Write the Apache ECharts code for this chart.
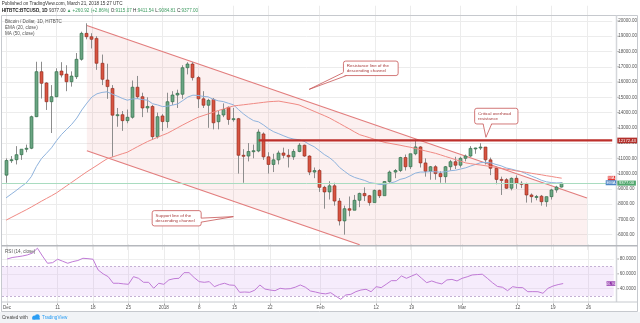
<!DOCTYPE html>
<html>
<head>
<meta charset="utf-8">
<script src="https://cdn.jsdelivr.net/npm/echarts@6.0.0/dist/echarts.min.js"></script>
<style>
html,body{margin:0;padding:0;background:#fff;}
#chart{width:640px;height:323px;}
</style>
</head>
<body>
<div id="chart"></div>
<script>
// ---------------- DATA ----------------
const firstCategory = '2017-11-30';
const categoryCount = 122;
const firstCandle = '2017-12-01';

const opens = [
 9900, 10860, 10910, 11240, 11600, 11660, 13730, 16680, 15940, 14710,
 15040, 16720, 16520, 16020, 16350, 17490, 19190, 18970, 18860, 17230,
 16130, 15580, 13830, 13860, 13470, 13690, 15660, 15040, 14300, 14400,
 12420, 13780, 13410, 14710, 15150, 15200, 16940, 17180, 16290, 14900,
 14480, 14860, 13400, 13840, 14340, 13550, 13600, 11200, 11150, 11450,
 11480, 12600, 11100, 10600, 10900, 11350, 11200, 11100, 11450, 11860,
 11150, 10100, 10200, 9100, 8800, 9200, 8200, 6900, 7700, 7600,
 8250, 8700, 8550, 8100, 8900, 8550, 9480, 10100, 10200, 11050,
 10450, 11300, 11750, 10700, 10150, 10450, 10000, 9800, 10450, 10780,
 10550, 11000, 11150, 11650, 11680, 11740, 10900, 10350, 9620, 9600,
 9040, 9690, 9360, 9300, 8600, 8490, 8520, 8160, 8490, 8930, 9115.07
];
const highs = [
 11000, 11150, 11800, 11600, 11900, 13800, 17330, 17330, 15990, 15800,
 16900, 17300, 17100, 16700, 17900, 19300, 19850, 19200, 19000, 17800,
 17200, 15800, 14300, 14100, 14200, 16100, 16400, 15300, 15000, 14500,
 14000, 13900, 15300, 15400, 15500, 17100, 17300, 17300, 16400, 15400,
 14900, 14950, 14100, 14600, 14400, 14300, 13650, 11600, 12000, 11900,
 12900, 12700, 11400, 11300, 11500, 11700, 11600, 11600, 12000, 11900,
 11200, 10400, 10300, 9200, 9500, 9400, 8400, 7900, 8500, 8600,
 8750, 9100, 8600, 8950, 8950, 9500, 10200, 10300, 11100, 11250,
 11300, 12250, 11800, 11000, 10500, 10550, 10150, 10500, 10900, 11100,
 11100, 11250, 11800, 11700, 11990, 11750, 11050, 10450, 9800, 9700,
 9750, 9880, 9500, 9400, 8700, 8600, 8600, 8500, 9000, 9200, 9411.54
];
const lows = [
 9400, 10700, 10600, 10900, 11400, 11600, 13700, 14920, 14170, 12660,
 15000, 16300, 15400, 15700, 16200, 17400, 18800, 18200, 16800, 15800,
 14900, 11100, 13070, 12800, 13300, 13600, 14900, 13700, 14000, 12200,
 12300, 12800, 13000, 14500, 14300, 14900, 16500, 16100, 14300, 14300,
 13000, 12900, 12900, 13700, 13200, 13400, 10000, 9400, 10800, 11000,
 11400, 10900, 10000, 10100, 10600, 11000, 10400, 10900, 11400, 11100,
 9900, 9700, 8800, 7700, 8300, 7900, 6600, 6000, 7200, 7600,
 7800, 8200, 7900, 8100, 8400, 8550, 9400, 9700, 10100, 10200,
 10300, 11200, 10400, 9800, 9600, 9600, 9400, 9400, 10200, 10300,
 10400, 10800, 11100, 11300, 11550, 10600, 9900, 9300, 8600, 9000,
 8900, 9000, 9050, 8100, 8100, 8250, 7900, 7830, 8300, 8750, 9084.81
];
const closes = [
 10860, 10910, 11240, 11600, 11660, 13730, 16680, 15920, 14710, 15040,
 16680, 16460, 16020, 16390, 17490, 19190, 18970, 18800, 17230, 16180,
 15700, 13830, 13860, 13470, 13690, 15660, 15040, 14300, 14400, 12420,
 13730, 13410, 14710, 15150, 15260, 16940, 17180, 16290, 14900, 14480,
 14800, 13330, 13840, 14200, 13550, 13600, 11200, 11150, 11450, 11500,
 12720, 11100, 10600, 10900, 11350, 11200, 11100, 11450, 11860, 11150,
 10100, 10200, 9100, 8800, 9200, 8200, 6900, 7700, 7600, 8250,
 8700, 8550, 8100, 8900, 8550, 9480, 10100, 10200, 11050, 10450,
 11300, 11750, 10700, 10150, 10450, 10000, 9800, 10450, 10780, 10550,
 11000, 11150, 11650, 11680, 11740, 10900, 10350, 9620, 9600, 9040,
 9690, 9360, 9300, 8600, 8490, 8500, 8160, 8490, 8930, 9115.07, 9377.00
];
const ema20 = [
 8410, 8650, 8890, 9150, 9390, 9800, 10460, 10980, 11330, 11690,
 12160, 12570, 12900, 13230, 13640, 14170, 14620, 15020, 15230, 15320,
 15360, 15210, 15080, 14930, 14810, 14890, 14910, 14850, 14810, 14580,
 14500, 14390, 14420, 14490, 14570, 14790, 15020, 15140, 15120, 15060,
 15030, 14870, 14770, 14720, 14610, 14510, 14200, 13910, 13670, 13470,
 13390, 13180, 12930, 12740, 12610, 12470, 12340, 12260, 12220, 12120,
 11920, 11760, 11510, 11250, 11050, 10780, 10410, 10150, 9910, 9750,
 9650, 9550, 9410, 9360, 9280, 9300, 9380, 9460, 9620, 9700,
 9850, 10030, 10100, 10100, 10130, 10120, 10090, 10120, 10190, 10220,
 10300, 10380, 10500, 10610, 10720, 10740, 10700, 10600, 10510, 10370,
 10300, 10210, 10130, 9980, 9840, 9710, 9560, 9460, 9410, 9390, 9400
];
const ma50 = [
 6950, 7120, 7290, 7460, 7630, 7810, 8000, 8190, 8370, 8550,
 8740, 8970, 9200, 9430, 9660, 9890, 10120, 10330, 10540, 10760,
 10970, 11080, 11190, 11300, 11400, 11580, 11760, 11930, 12100, 12240,
 12380, 12520, 12650, 12830, 13010, 13190, 13360, 13530, 13690, 13800,
 13910, 14020, 14130, 14230, 14330, 14430, 14470, 14510, 14550, 14590,
 14630, 14670, 14710, 14730, 14750, 14690, 14630, 14570, 14500, 14360,
 14220, 14080, 13940, 13800, 13650, 13470, 13290, 13100, 12920, 12730,
 12550, 12450, 12350, 12240, 12140, 12040, 11980, 11920, 11860, 11790,
 11730, 11650, 11570, 11490, 11410, 11330, 11230, 11120, 11020, 10910,
 10810, 10700, 10650, 10600, 10560, 10510, 10460, 10400, 10350, 10290,
 10240, 10180, 10130, 10080, 10020, 9970, 9920, 9860, 9810, 9750, 9700
];
const rsi14 = [
 80, 82, 83, 84, 85.5, 88, 94.6, 84, 74.3, 75.1,
 79.7, 77, 74.3, 76.5, 78, 81, 80.5, 79.7, 65.3, 60,
 56.2, 47.3, 47.3, 46.5, 45.9, 56.2, 54, 48.6, 48.6, 40.5,
 47.3, 45.9, 51.8, 53.5, 54, 61.6, 61.6, 55, 49.5, 48.6,
 49.5, 42.7, 45.5, 47.3, 45, 44.5, 35.1, 35.5, 35.1, 38,
 45, 39.5, 38.2, 37.3, 40.5, 39.6, 40, 42, 45, 42,
 36.9, 35.5, 33.8, 33, 34.6, 30, 25.7, 31.5, 32.4, 36,
 38.2, 39.2, 35.9, 42.7, 41.4, 46, 50.8, 50.8, 57.2, 54,
 57, 59.9, 54, 48.1, 50.4, 48, 46.4, 51.8, 52.5, 50.4,
 54, 56, 58.5, 59, 59.5, 54, 48.1, 43, 41.9, 37.3,
 42.7, 41.5, 41.4, 35.9, 36, 35.9, 33.8, 40.5, 43.6, 45.5, 46.9
];

// time-axis tick labels
const tickDates = ['2017-12-01','2017-12-11','2017-12-18','2017-12-25','2018-01-01','2018-01-08','2018-01-15','2018-01-22','2018-02-01','2018-02-12','2018-02-19','2018-03-01','2018-03-12','2018-03-19','2018-03-26'];
const tickLabels = ['Dec','11','18','25','2018','8','15','22','Feb','12','19','Mar','12','19','26'];

// drawings (date, price)
const upperLineDates = ['2017-12-17','2018-03-26'];
const upperLinePrices = [19705, 8401];
const lowerLineDates = ['2017-12-17','2018-02-09'];
const lowerLinePrices = [11500, 5340];
const channelDates = ['2017-12-17','2018-03-26','2018-03-26','2018-02-09','2017-12-17'];
const channelPrices = [19705, 8401, 5300, 5300, 11500];
const resistanceDates = ['2018-01-20','2018-03-31'];
const resistancePrices = [12172.43, 12172.43];
const lastPrice = 9377.00;

// callouts: tip anchor (date, price)
const calloutTexts = [['Resistance line of the','descending channel'],['Critical overhead','resistance'],['Support line of the','descending channel']];
const calloutTipDates = ['2018-01-30','2018-03-06','2018-01-15'];
const calloutTipPrices = [15520, 12380, 7180];

// ---------------- BUILD ----------------
const DAY = 86400000;
const t0 = Date.parse(firstCategory + 'T00:00:00Z');
function catIndex(s){ return Math.round((Date.parse(s + 'T00:00:00Z') - t0) / DAY); }
const categories = [];
for (let i = 0; i < categoryCount; i++) categories.push(new Date(t0 + i * DAY).toISOString().slice(0,10));
const tickMap = {};
tickDates.forEach((d, k) => { tickMap[catIndex(d)] = tickLabels[k]; });
const isTick = (i) => tickMap[i] !== undefined;

const c0 = catIndex(firstCandle);
const candleData = opens.map((o, k) => [c0 + k, o, highs[k], lows[k], closes[k]]);
const emaData = ema20.map((v, k) => [c0 + k, v]);
const maData = ma50.map((v, k) => [c0 + k, v]);
const rsiData = rsi14.map((v, k) => [c0 + k, v]);
const pairs = (ds, vs) => ds.map((d, k) => [catIndex(d), vs[k]]);

const FONT = '"Liberation Sans", Arial, sans-serif';
const chart = echarts.init(document.getElementById('chart'), null, {renderer:'canvas', width:640, height:323});

function renderCandle(params, api){
  const idx = api.value(0);
  const o = api.value(1), h = api.value(2), l = api.value(3), c = api.value(4);
  const pO = api.coord([idx, o]), pC = api.coord([idx, c]);
  const pH = api.coord([idx, h]), pL = api.coord([idx, l]);
  const xc = Math.round(pO[0] - 0.5) + 0.5;
  const up = c >= o;
  const top = Math.min(pO[1], pC[1]);
  const bh = Math.max(Math.abs(pO[1] - pC[1]), 1);
  return {type:'group', children:[
    {type:'line', shape:{x1:xc, y1:pH[1], x2:xc, y2:pL[1]}, style:{stroke:'#8d8d8d', lineWidth:1}},
    {type:'rect', shape:{x:xc - 1.5, y:top, width:3, height:bh},
     style:{fill: up ? '#6ba583' : '#d75442', stroke: up ? '#2c6a43' : '#8e2a1d', lineWidth:0.6}}
  ]};
}
function renderChannel(params, api){
  if (params.dataIndex !== 0) return null;
  const pts = channelDates.map((d, k) => api.coord([catIndex(d), channelPrices[k]]));
  return {type:'polygon', shape:{points:pts}, style:{fill:'rgba(228,105,105,0.10)'}};
}

const option = {
  animation:false,
  backgroundColor:'#ffffff',
  grid:[
    {left:1.0, width:612.74, top:5.74, height:244.16},
    {left:1.0, width:612.74, top:244.2, height:59.3}
  ],
  xAxis:[
    {type:'category', gridIndex:0, data:categories, boundaryGap:false,
     axisLine:{show:false}, axisTick:{show:false}, axisLabel:{show:false},
     splitLine:{show:true, interval:(i)=>isTick(i), lineStyle:{color:'#ececec', width:1}}},
    {type:'category', gridIndex:1, data:categories, boundaryGap:false,
     axisLine:{show:false},
     axisTick:{show:true, interval:(i)=>isTick(i), length:1.5, lineStyle:{color:'#9a9a9a'}},
     axisLabel:{show:true, interval:(i)=>isTick(i), formatter:(v, i)=>tickMap[i] || '', fontSize:4.6, color:'#555', margin:1.5, fontFamily:FONT},
     splitLine:{show:true, interval:(i)=>isTick(i), lineStyle:{color:'#ececec', width:1}}}
  ],
  yAxis:[
    {type:'value', gridIndex:0, position:'right', min:5000, max:21000, interval:1000,
     axisLine:{show:false}, axisTick:{show:false},
     axisLabel:{margin:6, fontSize:4.5, color:'#555', fontFamily:FONT,
       formatter:(v)=> (v >= 6000 && v <= 20000) ? v.toFixed(2) : ''},
     splitLine:{show:true, showMinLine:false, showMaxLine:false, lineStyle:{color:'#ececec', width:1}}},
    {type:'value', gridIndex:1, position:'right', min:20, max:100, interval:20,
     axisLine:{show:false}, axisTick:{show:false},
     axisLabel:{margin:6, fontSize:4.5, color:'#555', fontFamily:FONT,
       formatter:(v)=> (v >= 40 && v <= 80) ? v.toFixed(4) : ''},
     splitLine:{show:true, showMinLine:false, showMaxLine:false, lineStyle:{color:'#efefef', width:1}}}
  ],
  series:[
    {type:'custom', name:'channel', xAxisIndex:0, yAxisIndex:0, renderItem:renderChannel,
     data:pairs(channelDates, channelPrices), encode:{x:0, y:1}, clip:true, z:1, silent:true},
    {type:'line', name:'upper', xAxisIndex:0, yAxisIndex:0, data:pairs(upperLineDates, upperLinePrices),
     symbol:'none', lineStyle:{color:'#e27d7d', width:1.2}, z:2, silent:true},
    {type:'line', name:'lower', xAxisIndex:0, yAxisIndex:0, data:pairs(lowerLineDates, lowerLinePrices),
     symbol:'none', lineStyle:{color:'#e27d7d', width:1.2}, z:2, silent:true},
    {type:'custom', name:'BTCUSD', xAxisIndex:0, yAxisIndex:0, renderItem:renderCandle,
     data:candleData, encode:{x:0, y:[1,2,3,4]}, clip:true, z:3},
    {type:'line', name:'EMA', xAxisIndex:0, yAxisIndex:0, data:emaData, symbol:'none',
     lineStyle:{color:'#8fb3dd', width:1}, z:4},
    {type:'line', name:'MA', xAxisIndex:0, yAxisIndex:0, data:maData, symbol:'none',
     lineStyle:{color:'#f08a84', width:1}, z:4},
    {type:'line', name:'resistance', xAxisIndex:0, yAxisIndex:0, data:pairs(resistanceDates, resistancePrices),
     symbol:'none', lineStyle:{color:'#bd2f2b', width:2.2}, z:5, silent:true,
     markLine:{silent:true, symbol:'none', label:{show:false},
       lineStyle:{color:'#a9dcc0', width:1, type:'solid'}, data:[{yAxis:lastPrice}]}},
    {type:'line', name:'RSI', xAxisIndex:1, yAxisIndex:1, data:rsiData, symbol:'none',
     lineStyle:{color:'#c07ad6', width:1}, z:4,
     markArea:{silent:true, itemStyle:{color:'rgba(205,150,240,0.18)'}, data:[[{yAxis:30},{yAxis:70}]]},
     markLine:{silent:true, symbol:'none', label:{show:false},
       lineStyle:{color:'#c4b0d4', width:1, type:[2,2]}, data:[{yAxis:70},{yAxis:30}]}}
  ]
};
chart.setOption(option);

// ---------------- OVERLAYS ----------------
const P = (d, v) => chart.convertToPixel({gridIndex:0}, [typeof d === 'string' ? catIndex(d) : d, v]);
const R = (v) => chart.convertToPixel({gridIndex:1}, [0, v])[1];
const g = [];
const T = (text, x, y, opt) => g.push({type:'text', z:60, style:Object.assign({text, x, y, fill:'#555', fontSize:4.6, fontFamily:FONT, verticalAlign:'middle', align:'left'}, opt || {})});
const L = (x1, y1, x2, y2, stroke, w, z) => g.push({type:'line', z:z || 55, shape:{x1, y1, x2, y2}, style:{stroke, lineWidth:w}});

// footer + frame
g.push({type:'rect', z:50, shape:{x:0, y:312, width:640, height:11}, style:{fill:'#f1f3f6'}});
g.push({type:'rect', z:55, shape:{x:1.5, y:15.5, width:636, height:296}, style:{fill:'none', stroke:'#c6c9ce', lineWidth:1}});
L(616.5, 15.5, 616.5, 302, '#d4d6da', 1.5);
L(1.5, 245.8, 637.5, 245.8, '#b5b8bd', 1.6);
L(1.5, 302, 637.5, 302, '#c6c9ce', 1);

// price-axis ticks
for (let v = 6000; v <= 20000; v += 1000){ const y = P(0, v)[1]; L(617.3, y, 619, y, '#9a9a9a', 0.8, 56); }
[40, 60, 80].forEach(v => { const y = R(v); L(617.3, y, 619, y, '#9a9a9a', 0.8, 56); });

// header
T('Published on TradingView.com, March 21, 2018 15:27 UTC', 1.7, 4.2, {fill:'#333', fontSize:4.6});
g.push({type:'text', z:60, style:{x:1.7, y:10.8, verticalAlign:'middle', fontFamily:FONT, fontSize:4.6,
  text:'{s|HITBTC:BTCUSD, 1D} {n|9377.00} {g|\u25B2 +260.92 (+2.86%)} {n|O:}{g|9115.07} {n|H:}{g|9411.54} {n|L:}{g|9084.81} {n|C:}{g|9377.00}',
  rich:{s:{fill:'#222', fontWeight:'bold', fontSize:4.6, fontFamily:FONT},
        n:{fill:'#333', fontSize:4.6, fontFamily:FONT},
        g:{fill:'#3f9c62', fontSize:4.6, fontFamily:FONT}}}});

// legends
T('Bitcoin / Dollar, 1D, HITBTC', 5, 21.3, {fill:'#555'});
T('EMA (20, close)', 5, 27.6, {fill:'#555'});
T('MA (50, close)', 5, 33.8, {fill:'#555'});
T('RSI (14, close)', 5, 251.6, {fill:'#555'});

// callouts
function callout(k, dx, dy, w, h, side){
  const tip = P(calloutTipDates[k], calloutTipPrices[k]);
  const x0 = tip[0] + dx, y0 = tip[1] + dy;
  let b1, b2, inv;
  if (side === 'bottomleft'){ b1 = [x0, y0 + h - 3]; b2 = [x0 + 3, y0 + h]; inv = [1.2, -1.2]; }
  else if (side === 'bottom'){ b1 = [x0 + 8.5, y0 + h]; b2 = [x0 + 17, y0 + h]; inv = [0, -1.2]; }
  else { b1 = [x0 + w, y0 + 7.5]; b2 = [x0 + w, y0 + 11.5]; inv = [-1.2, 0]; }
  g.push({type:'rect', z:70, shape:{x:x0, y:y0, width:w, height:h, r:2.2}, style:{fill:'#ffffff', stroke:'#c65656', lineWidth:0.8}});
  g.push({type:'polygon', z:71, shape:{points:[[b1[0]+inv[0], b1[1]+inv[1]], tip, [b2[0]+inv[0], b2[1]+inv[1]]]}, style:{fill:'#ffffff'}});
  g.push({type:'polyline', z:72, shape:{points:[b1, tip, b2]}, style:{stroke:'#c65656', lineWidth:0.8, fill:null}});
  g.push({type:'text', z:73, style:{text:calloutTexts[k].join('\n'), x:x0 + 3.4, y:y0 + h / 2, verticalAlign:'middle', align:'left',
    fill:'#a83a3a', fontSize:4.4, lineHeight:5, fontFamily:FONT}});
}
callout(0, 34.3, -28.3, 54.7, 14.5, 'bottomleft');
callout(1, -11.3, -29, 43.3, 15.7, 'bottom');
callout(2, -81.2, -6, 49, 15.3, 'right');

// price-scale label boxes
function box(x, yc, w, h, fill, text){
  g.push({type:'rect', z:80, shape:{x, y:yc - h / 2, width:w, height:h}, style:{fill}});
  g.push({type:'text', z:81, style:{text, x:x + w / 2, y:yc, align:'center', verticalAlign:'middle', fill:'#fff', fontSize:4.2, fontFamily:FONT}});
}
box(617.3, P(0, resistancePrices[0])[1], 19.8, 5.6, '#b3302b', resistancePrices[0].toFixed(2));
box(607.8, P(0, ma50[ma50.length - 1])[1], 7.4, 4.6, '#e53935', 'MA');
box(605.7, P(0, ema20[ema20.length - 1])[1], 10.6, 5, '#4c85c5', 'EMA');
box(617.3, P(0, lastPrice)[1], 18.6, 5, '#4fa66c', lastPrice.toFixed(2));
box(606.5, R(rsi14[rsi14.length - 1]), 8.8, 4.4, '#8e2fa8', rsi14[rsi14.length - 1].toFixed(2));

// footer text
T('Created with', 2, 317.3, {fill:'#444', fontSize:4.6});
g.push({type:'circle', z:60, shape:{cx:34.3, cy:317.6, r:2.0}, style:{fill:'#2a9df4'}});
g.push({type:'circle', z:60, shape:{cx:37.3, cy:316.6, r:2.4}, style:{fill:'#2a9df4'}});
g.push({type:'rect', z:60, shape:{x:32.3, y:317.6, width:7.5, height:2}, style:{fill:'#2a9df4'}});
T('TradingView', 42, 317.3, {fill:'#2a9df4', fontSize:4.6});

chart.setOption({graphic:g});
</script>
</body>
</html>
